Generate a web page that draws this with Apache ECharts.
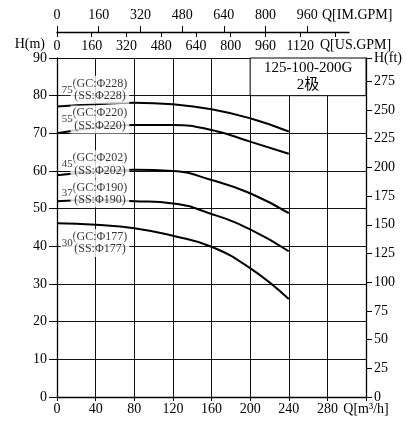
<!DOCTYPE html>
<html>
<head>
<meta charset="utf-8">
<script src="https://cdn.jsdelivr.net/npm/echarts@6/dist/echarts.min.js"></script>
<style>
html, body { margin: 0; padding: 0; background: #fff; }
#chart { width: 406px; height: 427px; }
</style>
</head>
<body>
<div id="chart"></div>
<script>
// 流量 Q (m³/h)
const flow = [0, 40, 80, 120, 160, 200, 240];
// 各叶轮直径的扬程 H (m)
const headD228 = [77.1, 77.7, 78.1, 77.7, 76.4, 74.0, 70.5];
const headD220 = [70.0, 71.5, 72.2, 72.2, 70.9, 67.8, 64.6];
const headD202 = [58.9, 59.8, 60.3, 60.0, 57.6, 54.1, 48.8];
const headD190 = [52.0, 52.3, 52.0, 51.4, 48.6, 44.5, 38.7];
const headD177 = [46.1, 45.7, 44.8, 42.8, 39.9, 34.2, 26.0];
const diameters = ["Φ228", "Φ220", "Φ202", "Φ190", "Φ177"];
const powerTags = ["75", "55", "45", "37", "30"];
const modelName = "125-100-200G";
const poleName = "2极";

// 轴范围
const qMax = 320, qStep = 40;
const hMax = 90, hStep = 10;
const ftStep = 25;
const imMax = 1120, gpmStep = 160;
const usMax = imMax * 1.20095;   // 英制加仑 -> 美制加仑
const ftMax = hMax * 3.28084;

// 标注位置（数据坐标）
const tagQ = 10.5, textQ = 44.5;
const labelH = [81.6, 73.7, 61.8, 54.0, 40.9];

const FONT = "Liberation Serif, Noto Sans CJK SC";
const lineColor = "#111";

const chart = echarts.init(document.getElementById("chart"));

const heads = [headD228, headD220, headD202, headD190, headD177];
const curveSeries = heads.map((h, i) => ({
  name: diameters[i],
  type: "line",
  data: flow.map((q, k) => [q, h[k]]),
  smooth: 0.5,
  showSymbol: false,
  lineStyle: { color: "#000", width: 2 },
  z: 3,
}));

const options = {
  animation: false,
  textStyle: { fontFamily: FONT, color: "#000" },
  grid: [
    { left: 57, right: 40, top: 58, bottom: 30, outerBoundsMode: "none" },
    { left: 57, width: 292, top: 31, height: 1, outerBoundsMode: "none" },
  ],
  xAxis: [
    {
      gridIndex: 0,
      type: "value",
      min: 0,
      max: qMax,
      interval: qStep,
      axisLine: { lineStyle: { color: "#000", width: 1.3 } },
      axisTick: { length: 4, lineStyle: { color: "#000" } },
      splitLine: { show: true, lineStyle: { color: lineColor, width: 1 } },
      axisLabel: {
        interval: 0,
        margin: 5,
        fontSize: 14,
        fontFamily: FONT,
        color: "#000",
        showMaxLabel: true,
        formatter: (v) => (v === qMax ? "Q[m³/h]" : String(v)),
      },
    },
    {
      gridIndex: 1,
      type: "value",
      position: "top",
      min: 0,
      max: imMax,
      interval: gpmStep,
      axisLine: { lineStyle: { color: "#000", width: 1.3 } },
      axisTick: { length: 6, lineStyle: { color: "#000" } },
      splitLine: { show: false },
      axisLabel: {
        margin: 9,
        fontSize: 14,
        fontFamily: FONT,
        color: "#000",
        showMaxLabel: false,
      },
      name: "Q[IM.GPM]",
      nameLocation: "end",
      nameGap: -27,
      nameTextStyle: { fontSize: 14, fontFamily: FONT, color: "#000", verticalAlign: "bottom", padding: [0, 0, 10, 0] },
    },
    {
      gridIndex: 1,
      type: "value",
      position: "bottom",
      min: 0,
      max: usMax,
      interval: gpmStep,
      axisLine: { show: false },
      axisTick: { length: 5, lineStyle: { color: "#000" } },
      splitLine: { show: false },
      axisLabel: {
        margin: 7,
        fontSize: 14,
        fontFamily: FONT,
        color: "#000",
        showMaxLabel: false,
        formatter: (v) => (v <= imMax ? String(v) : ""),
      },
      name: "Q[US.GPM]",
      nameLocation: "end",
      nameGap: -29,
      nameTextStyle: { fontSize: 14, fontFamily: FONT, color: "#000", verticalAlign: "top", padding: [6, 0, 0, 0] },
    },
  ],
  yAxis: [
    {
      gridIndex: 0,
      type: "value",
      position: "left",
      min: 0,
      max: hMax,
      interval: hStep,
      axisLine: { show: true, lineStyle: { color: "#000", width: 1.3 } },
      axisTick: { show: true, length: 8, lineStyle: { color: "#000" } },
      splitLine: { show: true, lineStyle: { color: lineColor, width: 1 } },
      axisLabel: { margin: 10, fontSize: 14, fontFamily: FONT, color: "#000" },
      name: "H(m)",
      nameLocation: "end",
      nameGap: 7,
      nameTextStyle: { fontSize: 14, fontFamily: FONT, color: "#000", align: "right", padding: [0, 12, 0, 0] },
    },
    {
      gridIndex: 0,
      type: "value",
      position: "right",
      min: 0,
      max: ftMax,
      interval: ftStep,
      axisLine: { show: true, lineStyle: { color: "#000", width: 1.3 } },
      axisTick: { show: true, length: 6, lineStyle: { color: "#000" } },
      splitLine: { show: false },
      axisLabel: {
        margin: 8,
        fontSize: 14,
        fontFamily: FONT,
        color: "#000",
        showMaxLabel: true,
        formatter: (v) => (v % ftStep === 0 ? String(v) : "H(ft)"),
      },
    },
    { gridIndex: 1, type: "value", show: false, min: 0, max: 1 },
  ],
  series: [
    ...curveSeries,
    {
      name: "labels",
      type: "scatter",
      symbolSize: 0,
      silent: true,
      z: 10,
      data: diameters.map((d, i) => [textQ, labelH[i], `(GC:${d})\n(SS:${d})`]),
      label: {
        show: true,
        position: "inside",
        formatter: (p) => p.data[2],
        fontSize: 12,
        lineHeight: 12.5,
        fontFamily: FONT,
        color: "#000",
        backgroundColor: "#fff",
        padding: [1, 2, 2, 2],
      },
    },
    {
      name: "tags",
      type: "scatter",
      symbolSize: 0,
      silent: true,
      z: 10,
      data: powerTags.map((t, i) => [tagQ, labelH[i], t]),
      label: {
        show: true,
        position: "inside",
        formatter: (p) => p.data[2],
        fontSize: 11,
        fontFamily: FONT,
        color: "#000",
        backgroundColor: "#fff",
        padding: [0, 1],
      },
      markArea: {
        silent: true,
        itemStyle: { color: "#fff", borderColor: "#000", borderWidth: 1 },
        label: {
          show: true,
          position: "inside",
          fontSize: 15,
          lineHeight: 17,
          fontFamily: FONT,
          color: "#000",
          formatter: modelName + "\n" + poleName,
        },
        data: [[{ coord: [200, 80] }, { coord: [qMax, hMax] }]],
      },
    },
  ],
};

chart.setOption(options);
</script>
</body>
</html>
